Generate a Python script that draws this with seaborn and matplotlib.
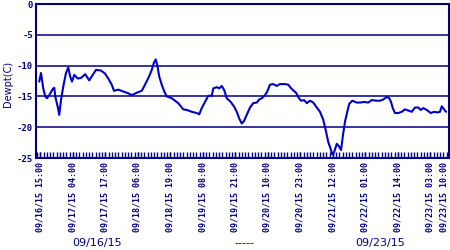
import numpy as np
import pandas as pd
import matplotlib
matplotlib.use("Agg")
import matplotlib.pyplot as plt
import matplotlib.transforms as mtransforms
import seaborn as sns

# hours since 09/16/15 15:00
hours = [-0.3, 0.4, 1.3, 2.1, 2.8, 3.7, 5.1, 5.7, 6.1, 7.1, 7.7, 8.4, 9.3, 10.4, 11.3,
         12.1, 12.8, 13.7, 15.1, 16.4, 18.1, 19.7, 21.1, 22.4, 24.4, 26.0, 27.3, 28.7,
         29.6, 31.3, 33.3, 35.3, 36.7, 38.7, 40.7, 42.0, 43.7, 44.7, 45.6, 46.3, 46.9,
         47.7, 48.7, 49.7, 50.7, 52.7, 55.3, 57.3, 58.7, 60.7, 62.7, 63.7, 64.7, 66.0,
         67.3, 68.7, 69.3, 70.7, 71.7, 72.7, 73.7, 74.7, 76.3, 77.7, 78.7, 79.7, 80.7,
         81.6, 82.7, 84.0, 85.3, 86.7, 87.7, 88.7, 90.0, 90.9, 92.0, 93.3, 94.7, 96.0,
         98.0, 99.3, 100.7, 102.4, 103.6, 104.4, 105.7, 106.7, 108.0, 109.3, 110.7,
         112.0, 113.3, 114.3, 115.3, 116.4, 116.9, 117.7, 118.7, 119.6, 120.4, 121.3,
         122.0, 122.9, 123.7, 124.9, 126.7, 128.0, 129.7, 131.3, 132.7, 134.7, 136.0,
         137.3, 138.7, 139.7, 140.4, 141.1, 142.0, 143.3, 144.7, 146.0, 147.3, 148.7,
         150.0, 151.3, 152.3, 153.3, 154.7, 156.3, 157.6, 158.9, 160.0, 160.7, 161.6,
         162.4]
dewpt = [-12.6, -11.2, -13.7, -15.0, -15.3, -14.8, -13.8, -13.6, -15.0, -16.7, -18.0,
         -15.6, -13.4, -11.2, -10.3, -11.8, -12.6, -11.5, -12.1, -12.0, -11.4, -12.4,
         -11.5, -10.7, -10.8, -11.3, -12.1, -13.1, -14.1, -13.9, -14.2, -14.5, -14.8,
         -14.4, -14.1, -13.1, -11.7, -10.7, -9.5, -9.0, -9.9, -11.8, -13.1, -14.2,
         -15.0, -15.3, -16.1, -17.1, -17.2, -17.5, -17.7, -17.9, -16.9, -15.9, -14.9,
         -14.9, -13.7, -13.5, -13.7, -13.3, -14.0, -15.3, -15.9, -16.7, -17.5, -18.6,
         -19.4, -19.0, -18.0, -16.8, -16.1, -16.0, -15.5, -15.3, -14.8, -14.2, -13.1,
         -13.0, -13.3, -13.0, -13.0, -13.1, -13.8, -14.4, -15.3, -15.7, -15.6, -16.1,
         -15.7, -16.0, -16.8, -17.5, -18.8, -20.5, -22.4, -23.7, -24.4, -24.0, -22.7,
         -23.1, -23.7, -21.0, -19.1, -17.5, -16.2, -15.7, -16.0, -16.0, -15.9, -16.0,
         -15.6, -15.7, -15.7, -15.5, -15.1, -15.3, -15.9, -16.9, -17.7, -17.7, -17.5,
         -17.1, -17.3, -17.5, -16.8, -16.8, -17.2, -16.9, -17.2, -17.7, -17.5, -17.6,
         -17.5, -16.6, -17.1, -17.5]

tick_hours = [0, 13, 26, 39, 52, 65, 78, 91, 104, 117, 130, 143, 156, 163]
tick_labels = ["09/16/15 15:00", "09/17/15 04:00", "09/17/15 17:00", "09/18/15 06:00",
               "09/18/15 19:00", "09/19/15 08:00", "09/19/15 21:00", "09/20/15 10:00",
               "09/20/15 23:00", "09/21/15 12:00", "09/22/15 01:00", "09/22/15 14:00",
               "09/23/15 03:00", "09/23/15 10:00"]
y_ticks = [0, -5, -10, -15, -20, -25]
footer = ["09/16/15", "-----", "09/23/15"]

navy = "#000080"
line_col = "#0000CC"

sns.set_style("white")
plt.rcParams["axes.unicode_minus"] = False

fig = plt.figure(figsize=(4.5, 2.5), dpi=100)
ax = fig.add_axes([36 / 450, 1 - 158 / 250, 413 / 450, 154 / 250])

df = pd.DataFrame({"h": hours, "d": dewpt})
sns.lineplot(data=df, x="h", y="d", ax=ax, color=line_col, linewidth=1.5)

ax.set_xlim(-1.6, 163.6)
ax.set_ylim(-25, 0)
ax.set_yticks(y_ticks)
ax.set_yticklabels([str(v) for v in y_ticks], family="DejaVu Sans Mono",
                   fontsize=6.5, fontweight="bold", color=navy)
ax.set_xticks(tick_hours)
ax.set_xticklabels(tick_labels, rotation=90, family="DejaVu Sans Mono",
                   fontsize=6, fontweight="bold", color=navy)
ax.set_xticks(np.arange(-1.2, 163.6, 1.3), minor=True)
ax.tick_params(axis="x", which="both", direction="in", length=4, width=1,
               color=navy, pad=3, bottom=True)
ax.tick_params(axis="y", length=0, pad=2)

# nudge the last label so it stays inside the picture
last = ax.get_xticklabels()[-1]
last.set_transform(last.get_transform() +
                   mtransforms.ScaledTranslation(-2.5 / 72, 0, fig.dpi_scale_trans))

for y in [-5, -10, -15, -20]:
    ax.axhline(y, color=navy, linewidth=1.1, zorder=0)
for s in ax.spines.values():
    s.set_color(navy)
    s.set_linewidth(1.5)

ax.set_xlabel("")
ax.set_ylabel("Dewpt(C)", fontsize=7, color=navy, family="DejaVu Sans")
ax.yaxis.set_label_coords(-0.055, 0.48)

fig.text(97 / 450, 1 - 243 / 250, footer[0], ha="center", va="center",
         fontsize=8, color=navy, family="DejaVu Sans")
fig.text(244 / 450, 1 - 243 / 250, footer[1], ha="center", va="center",
         fontsize=8, color=navy, family="DejaVu Sans")
fig.text(380 / 450, 1 - 243 / 250, footer[2], ha="center", va="center",
         fontsize=8, color=navy, family="DejaVu Sans")

fig.savefig("out.png", dpi=100)
